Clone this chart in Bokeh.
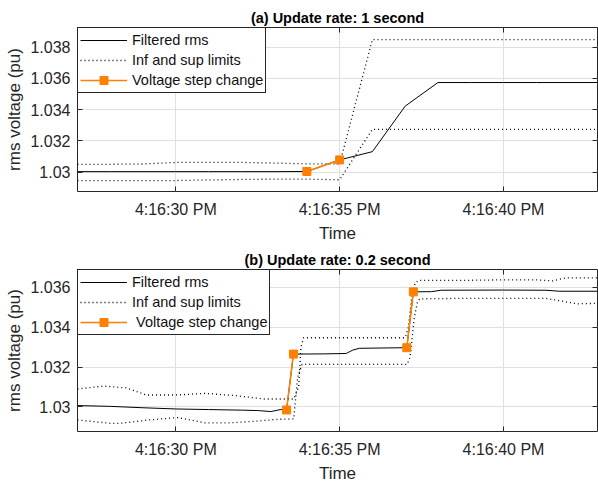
from bokeh.plotting import figure
from bokeh.layouts import column
from bokeh.models import Range1d, FixedTicker, LinearAxis, Legend, LegendItem
from bokeh.embed import file_html
from bokeh.resources import INLINE

# ---- shared time axis (seconds after 4:16:00 PM) ----
time_ticks = [30, 35, 40]
time_labels = ["4:16:30 PM", "4:16:35 PM", "4:16:40 PM"]

# ---- (a) update rate 1 s ----
a_time = [27, 28, 29, 30, 31, 32, 33, 34, 35, 36, 37, 38, 39, 40, 41, 42, 43]
a_filtered = [1.03003, 1.03003, 1.03003, 1.03003, 1.03003, 1.03003, 1.03003, 1.03004,
              1.03078, 1.03131, 1.03422, 1.03573, 1.03573, 1.03573, 1.03573, 1.03573, 1.03573]
a_upper = [1.03050, 1.03050, 1.03052, 1.03062, 1.03062, 1.03062, 1.03058, 1.03053,
           1.03052, 1.03848, 1.03848, 1.03848, 1.03848, 1.03848, 1.03848, 1.03848, 1.03848]
a_lower = [1.02946, 1.02946, 1.02946, 1.02946, 1.02950, 1.02953, 1.02955, 1.02955,
           1.02951, 1.03274, 1.03274, 1.03274, 1.03274, 1.03274, 1.03274, 1.03274, 1.03274]
a_step_time = [34, 35]
a_step_value = [1.03004, 1.03078]
a_y_ticks = [1.030, 1.032, 1.034, 1.036, 1.038]
a_y_labels = ["1.03", "1.032", "1.034", "1.036", "1.038"]

# ---- (b) update rate 0.2 s ----
b_filt_time = [27.0, 28.0, 29.0, 30.0, 31.0, 32.0, 32.5, 32.9, 33.2, 33.38, 33.59,
               34.5, 35.2, 35.4, 35.6, 36.5, 37.05, 37.25, 37.8, 38.1, 40.0, 41.3, 41.7, 43.0]
b_filtered = [1.03007, 1.03003, 1.02996, 1.02990, 1.02987, 1.02984, 1.02982, 1.02977,
              1.02987, 1.02985, 1.03265, 1.03266, 1.03268, 1.03285, 1.03294, 1.03296,
              1.03297, 1.03577, 1.03578, 1.03585, 1.03586, 1.03585, 1.03580, 1.03580]
b_up_time = [27.0, 27.8, 28.5, 29.1, 30.0, 30.9, 31.8, 32.7, 33.3, 33.6, 33.75, 33.82, 33.9,
             35.0, 36.0, 37.0, 37.1, 37.2, 37.3, 37.4, 38.5, 40.0, 41.0, 41.5, 41.9, 43.0]
b_upper = [1.03090, 1.03105, 1.03095, 1.03060, 1.03060, 1.03068, 1.03057, 1.03040, 1.03040,
           1.03040, 1.03100, 1.03300, 1.03347, 1.03347, 1.03347, 1.03347, 1.03400, 1.03550,
           1.03620, 1.03634, 1.03634, 1.03637, 1.03637, 1.03632, 1.03647, 1.03647]
b_lo_time = [27.0, 28.0, 28.3, 29.2, 30.06, 30.9, 31.6, 32.4, 33.1, 33.6, 33.72, 33.85,
             35.0, 36.0, 37.06, 37.15, 37.28, 37.38, 37.45, 38.5, 40.0, 41.3, 41.8, 42.25, 43.0]
b_lower = [1.02935, 1.02918, 1.02918, 1.02935, 1.02947, 1.02920, 1.02920, 1.02928, 1.02938,
           1.02940, 1.03150, 1.03213, 1.03213, 1.03213, 1.03213, 1.03250, 1.03450, 1.03530,
           1.03542, 1.03544, 1.03544, 1.03544, 1.03530, 1.03517, 1.03520]
b_step_time = [33.38, 33.59, 37.05, 37.25]
b_step_value = [1.02985, 1.03265, 1.03297, 1.03577]
b_y_ticks = [1.030, 1.032, 1.034, 1.036]
b_y_labels = ["1.03", "1.032", "1.034", "1.036"]

FONT = "Liberation Sans"
INK = "#262626"
ORANGE = "#FF8000"
GRID = "#e0e0e0"
DOTS = dict(line_color="black", line_width=1.3, line_dash="1 3")


def mirror_axis(p, ticks, side):
    ax = LinearAxis(ticker=FixedTicker(ticks=ticks),
                    major_label_overrides={t: "" for t in ticks},
                    major_label_text_font_size="0px", major_label_standoff=0,
                    major_tick_in=5, major_tick_out=0, major_tick_line_color=INK,
                    minor_tick_line_color=None, axis_line_color=None)
    p.add_layout(ax, side)


def panel(title, height, border_top, border_bottom, y_lo, y_hi, y_ticks, y_labels):
    p = figure(width=598, height=height, x_range=Range1d(27.0, 42.87),
               y_range=Range1d(y_lo, y_hi), output_backend="svg",
               toolbar_location=None, min_border_left=77, min_border_right=1,
               min_border_top=border_top, min_border_bottom=border_bottom)
    p.background_fill_color = "white"
    p.border_fill_color = "white"
    p.outline_line_color = INK
    p.outline_line_alpha = 1.0
    p.outline_line_width = 1

    p.title.text = title
    p.title.align = "center"
    p.title.text_font = FONT
    p.title.text_font_size = "14.5px"
    p.title.text_font_style = "bold"
    p.title.text_color = "black"
    p.title.standoff = 4

    p.xaxis.ticker = FixedTicker(ticks=time_ticks)
    p.xaxis.major_label_overrides = dict(zip(time_ticks, time_labels))
    p.yaxis.ticker = FixedTicker(ticks=y_ticks)
    p.yaxis.major_label_overrides = dict(zip(y_ticks, y_labels))
    p.xgrid.ticker = FixedTicker(ticks=time_ticks)
    p.ygrid.ticker = FixedTicker(ticks=y_ticks)
    p.grid.grid_line_color = GRID
    p.grid.grid_line_width = 1

    p.xaxis.axis_label = "Time"
    p.yaxis.axis_label = "rms voltage (pu)"
    for ax in (p.xaxis, p.yaxis):
        ax.axis_line_color = None
        ax.major_tick_in = 5
        ax.major_tick_out = 0
        ax.major_tick_line_color = INK
        ax.minor_tick_line_color = None
        ax.major_label_text_font = FONT
        ax.major_label_text_font_size = "16px"
        ax.major_label_text_color = INK
        ax.axis_label_text_font = FONT
        ax.axis_label_text_font_size = "17px"
        ax.axis_label_text_font_style = "normal"
        ax.axis_label_text_color = INK
        ax.axis_label_standoff = 3
    p.xaxis.major_label_standoff = 9
    p.yaxis.major_label_standoff = 7

    mirror_axis(p, time_ticks, "above")
    mirror_axis(p, y_ticks, "right")
    return p


def add_legend(p, items):
    leg = Legend(items=items, location="top_left", margin=0, padding=2, spacing=0,
                 label_height=20, glyph_height=20, glyph_width=47, label_standoff=5,
                 label_text_font=FONT, label_text_font_size="14.5px",
                 label_text_color="#111111", border_line_color=INK,
                 border_line_width=1, border_line_alpha=1.0,
                 background_fill_color="white", background_fill_alpha=1.0)
    p.add_layout(leg)


# ---- panel (a) ----
pa = panel("(a) Update rate: 1 second", 245, 27, 54, 1.02876, 1.03925, a_y_ticks, a_y_labels)
ra_up = pa.line(a_time, a_upper, **DOTS)
pa.line(a_time, a_lower, **DOTS)
ra_f = pa.line(a_time, a_filtered, line_color="black", line_width=1)
ra_sl = pa.line(a_step_time, a_step_value, line_color=ORANGE, line_width=1.5)
ra_sm = pa.scatter(a_step_time, a_step_value, marker="square", size=8,
                   fill_color=ORANGE, line_color=ORANGE)
add_legend(pa, [LegendItem(label="Filtered rms", renderers=[ra_f]),
                LegendItem(label="Inf and sup limits", renderers=[ra_up]),
                LegendItem(label="Voltage step change", renderers=[ra_sl, ra_sm])])

# ---- panel (b) ----
pb = panel("(b) Update rate: 0.2 second", 240, 24, 53, 1.02877, 1.03689, b_y_ticks, b_y_labels)
rb_up = pb.line(b_up_time, b_upper, **DOTS)
pb.line(b_lo_time, b_lower, **DOTS)
rb_f = pb.line(b_filt_time, b_filtered, line_color="black", line_width=1)
rb_sl = pb.multi_line([b_step_time[0:2], b_step_time[2:4]],
                      [b_step_value[0:2], b_step_value[2:4]],
                      line_color=ORANGE, line_width=1.5)
rb_sm = pb.scatter(b_step_time, b_step_value, marker="square", size=8,
                   fill_color=ORANGE, line_color=ORANGE)
add_legend(pb, [LegendItem(label="Filtered rms", renderers=[rb_f]),
                LegendItem(label="Inf and sup limits", renderers=[rb_up]),
                LegendItem(label=" Voltage step change", renderers=[rb_sl, rb_sm])])

layout = column(pa, pb, spacing=0)
open("out.html", "w").write(file_html(layout, INLINE))
